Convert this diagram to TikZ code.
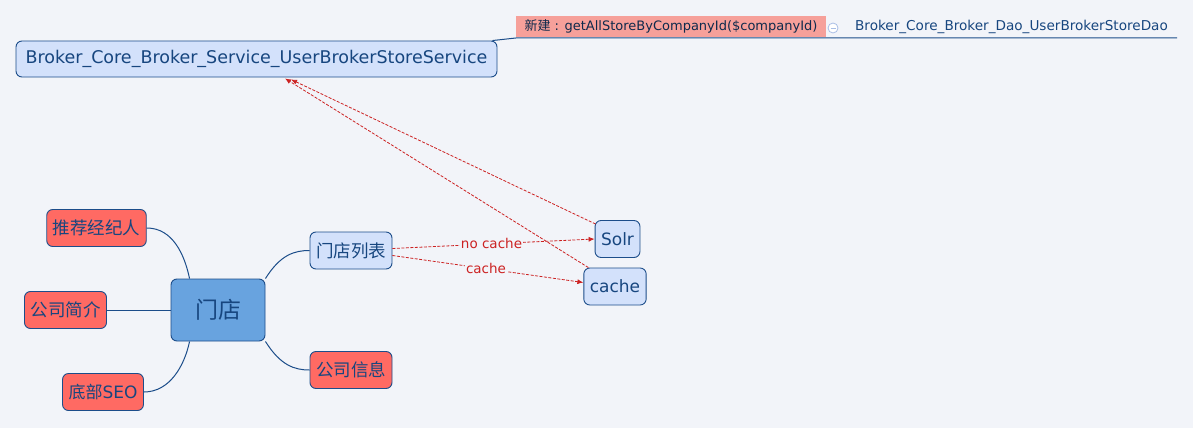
\documentclass[tikz,border=0pt]{standalone}
\usepackage{fontspec}
\setmainfont{DejaVu Sans}
\newfontfamily\cjk{Noto Sans CJK SC}
\usepackage{tikz}
\usetikzlibrary{positioning,arrows.meta,calc}
\definecolor{mapBg}{HTML}{F2F4F9}
\definecolor{mapLine}{HTML}{1C4D8A}
\definecolor{mapText}{HTML}{17467F}
\definecolor{mapBlueLt}{HTML}{D3E1FB}
\definecolor{mapBlue}{HTML}{68A3DF}
\definecolor{mapRed}{HTML}{FF6A63}
\definecolor{mapPink}{HTML}{F6A09A}
\definecolor{mapArrow}{HTML}{CC2222}
\definecolor{mapFold}{HTML}{A9BEE6}
\tikzset{
  topicbox/.style={draw=mapLine, line width=0.9pt, rounded corners=6pt, text=mapText,
                   font=\cjk\fontsize{17.5}{20}\selectfont, minimum height=37pt,
                   inner sep=6pt},
  subtopic/.style={topicbox, fill=mapBlueLt},
  redtopic/.style={topicbox, fill=mapRed},
  roottopic/.style={topicbox, fill=mapBlue, font=\cjk\fontsize{23}{26}\selectfont,
                    minimum width=94pt, minimum height=62pt},
  notelabel/.style={fill=mapPink, text=mapText!60!black, font=\fontsize{13}{15}\selectfont,
                    minimum width=310pt, minimum height=21pt, inner sep=2pt},
  branch/.style={draw=mapLine, line width=1pt},
  refarrow/.style={draw=mapArrow, line width=0.8pt, dash pattern=on 3pt off 1.5pt,
                   -{Latex[length=6pt, width=5pt]}},
  reflabel/.style={fill=mapBg, text=mapArrow, font=\fontsize{13.5}{15}\selectfont,
                   inner sep=1pt},
}
\begin{document}
\begin{tikzpicture}[x=1pt, y=-1pt]
\useasboundingbox (0,0) rectangle (1193,428);
\fill[mapBg] (0,0) rectangle (1193,428);

%% Service topic and its child
\node[subtopic, font=\fontsize{17.5}{20}\selectfont, minimum width=481pt, minimum height=36pt]
  (svc) at (256.5,59) {Broker\_Core\_Broker\_Service\_UserBrokerStoreService};
\node[notelabel] (note) at (671,26.5) {{\cjk 新建} : getAllStoreByCompanyId(\$companyId)};
\node[circle, draw=mapFold, fill=white, minimum size=10pt, inner sep=0pt, line width=0.8pt]
  (fold) at (833,28) {};
\draw[mapFold, line width=0.8pt] ([xshift=-2.5pt]fold.center) -- ([xshift=2.5pt]fold.center);
\node[text=mapText, font=\fontsize{13.6}{15}\selectfont, inner sep=0pt] (dao) at (1011.5,27)
  {Broker\_Core\_Broker\_Dao\_UserBrokerStoreDao};
\coordinate (daoEnd) at (1177,38);
\draw[branch] ([xshift=-5pt]svc.north east) .. controls ([xshift=6pt,yshift=2pt]svc.north east)
  .. (note.south west |- daoEnd) -- (daoEnd);

%% Root topic
\node[roottopic] (root) at (218,310) {门店};

%% Left branches
\node[redtopic] (rec) at (96.5,228) {推荐经纪人};
\node[redtopic] (intro) at (65.5,310) {公司简介};
\node[redtopic, font=\fontsize{17}{20}\selectfont] (seo) at (103,392) {{\cjk 底部}SEO};
\draw[branch] (rec.east) .. controls +(26,0) and +(-5,-24) .. ([xshift=19pt]root.north west);
\draw[branch] (intro.east) -- (root.west);
\draw[branch] (seo.east) .. controls +(26,0) and +(-5,24) .. ([xshift=19pt]root.south west);

%% Right branches
\node[subtopic] (list) at (351,250.5) {门店列表};
\node[redtopic] (info) at (351,370) {公司信息};
\draw[branch] (root.north east) .. controls +(15,-24) and +(-15,0) .. (list.west);
\draw[branch] (root.south east) .. controls +(15,24) and +(-15,0) .. (info.west);

%% Data sources
\node[subtopic, font=\fontsize{17}{20}\selectfont] (solr) at (617.5,239) {Solr};
\node[subtopic, font=\fontsize{17}{20}\selectfont] (cache) at (615,286.5) {cache};

%% References
\draw[refarrow] ([yshift=2pt]list.east) -- node[reflabel, pos=0.49] {no cache} (solr.west);
\draw[refarrow] ([yshift=-5pt]list.east) -- node[reflabel, pos=0.49] {cache} ([yshift=4pt]cache.west);
\draw[refarrow] ([xshift=1pt,yshift=-4pt]solr.north west) -- ([xshift=34.5pt,yshift=-2pt]svc.south);
\draw[refarrow] ([xshift=5pt]cache.north west) -- ([xshift=28.5pt,yshift=-1pt]svc.south);
\end{tikzpicture}
\end{document}
